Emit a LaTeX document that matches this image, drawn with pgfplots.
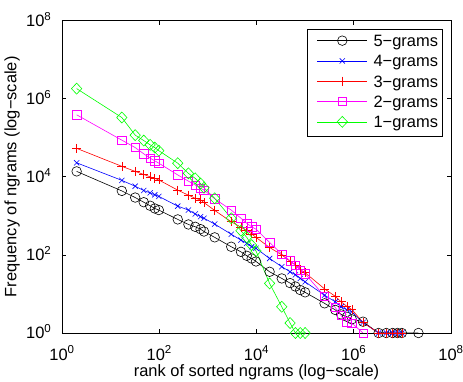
\documentclass[border=0pt]{standalone}
\usepackage{fontspec}
\setmainfont{Liberation Sans}
\usepackage{pgfplots}
\pgfplotsset{compat=1.18}
\definecolor{mgreen}{rgb}{0,1,0}
\definecolor{mmag}{rgb}{1,0,1}
\definecolor{mblue}{rgb}{0,0,1}
\definecolor{mred}{rgb}{1,0,0}
\newcommand{\lf}{\fontsize{16.5}{19}\selectfont}
\begin{document}
\lf
\begin{tikzpicture}
\begin{axis}[
  scale only axis, width=389bp, height=312.3bp,
  xmode=log, ymode=log,
  xmin=1, xmax=1e8, ymin=1, ymax=1e8,
  xtick={1,1e2,1e4,1e6,1e8},
  ytick={1,1e2,1e4,1e6,1e8},
  xticklabels={10\textsuperscript{0},10\textsuperscript{2},10\textsuperscript{4},10\textsuperscript{6},10\textsuperscript{8}},
  yticklabels={10\textsuperscript{0},10\textsuperscript{2},10\textsuperscript{4},10\textsuperscript{6},10\textsuperscript{8}},
  minor xtick={}, minor ytick={},
  tick align=inside, major tick length=4bp,
  tick style={black, line width=0.7bp},
  axis line style={line width=0.8bp},
  tick label style={font=\lf},
  xticklabel style={anchor=base, yshift=-27bp},
  yticklabel style={anchor=base east, xshift=-5bp, yshift=-5.9bp},
  xlabel={rank of sorted ngrams (log−scale)},
  ylabel={Frequency of ngrams (log−scale)},
  label style={font=\lf},
  xlabel style={at={(axis description cs:0.5,0)}, anchor=base, yshift=-43bp},
  ylabel style={at={(axis description cs:-0.1285,0.5)}, anchor=center},
  clip=false,
  legend style={at={(1,1)}, anchor=north east, xshift=-8.3bp, yshift=-8.6bp,
    draw=black, line width=0.8bp, fill=white,
    inner xsep=4.3bp, inner ysep=4.75bp, row sep=4bp,
    font=\lf,
    nodes={inner sep=0pt, text height=12bp, text depth=4.3bp},
    cells={anchor=base west},
    /tikz/every odd column/.append style={column sep=6bp}},
  legend image code/.code={
    \path (-5.7bp,0bp) (50bp,0bp);
    \draw[mark repeat=2,mark phase=2,#1] plot coordinates {(0bp,5.8bp) (25bp,5.8bp) (50bp,5.8bp)};
  },
]
\addplot[black, line width=0.6bp, mark=o, mark size=4.8bp, mark options={solid}] coordinates {
(2,13800)(17,4365)(32,2950)(48,2240)(65,1820)(81,1550)(98,1410)(240,813)(398,603)(550,525)(708,457)(832,398)(1380,282)(3020,162)(4790,120)(6310,95)(7940,81)(9770,68)(18600,37)(33100,25)(49000,19)(63100,15.5)(79400,12.6)(100000,11)(251000,5.75)(417000,3.9)(550000,3.0)(724000,2.6)(912000,2.24)(1550000,1.95)(3240000,1)(4680000,1)(6310000,1)(7940000,1)(9770000,1)(21400000,1)
};
\addlegendentry{5−grams}
\addplot[mblue, line width=0.6bp, mark=x, mark size=3.7bp, mark options={solid}] coordinates {
(2,22900)(17,8130)(32,5750)(48,4470)(65,3890)(81,3470)(98,3160)(240,1780)(398,1410)(550,1120)(708,955)(832,871)(1380,617)(3020,339)(4790,240)(6310,200)(7940,162)(9770,148)(18600,81)(33100,50)(49000,37)(63100,31)(79400,25)(100000,20.4)(251000,9.3)(417000,6.3)(550000,4.7)(724000,3.9)(912000,3.5)(1550000,1.86)(3240000,1)(4680000,1)(6310000,1)(7940000,1)(9770000,1)
};
\addlegendentry{4−grams}
\addplot[mred, line width=0.6bp, mark=+, mark size=4.5bp, mark options={solid}] coordinates {
(2,53700)(17,18600)(32,13800)(48,11500)(65,10000)(81,9120)(98,8320)(240,4570)(398,3390)(550,2820)(708,2570)(832,2190)(1380,1380)(3020,708)(4790,513)(6310,417)(7940,347)(9770,282)(18600,155)(33100,100)(49000,69)(63100,55)(79400,42)(100000,35)(251000,13.5)(417000,8.7)(550000,6.3)(724000,4.8)(912000,4.0)(1550000,1.86)(3240000,1)(4680000,1)(6310000,1)(7940000,1)(9770000,1)
};
\addlegendentry{3−grams}
\addplot[mmag, line width=0.6bp, mark=square, mark size=4.2bp, mark options={solid}] coordinates {
(2,389000)(17,87100)(32,56200)(48,38900)(65,30200)(81,25700)(98,22400)(240,11200)(398,7760)(550,6170)(708,5130)(832,4570)(1380,2750)(3020,1410)(4790,871)(6310,646)(7940,525)(9770,457)(18600,209)(33100,105)(49000,71)(63100,55)(79400,41)(100000,33)(251000,8.7)(417000,4.5)(550000,2.8)(724000,1.95)(912000,1.8)(1550000,1)
};
\addlegendentry{2−grams}
\addplot[mgreen, line width=0.6bp, mark=diamond, mark size=5.5bp, mark options={solid, xscale=1.25}] coordinates {
(2,1820000)(17,331000)(32,117000)(48,85100)(65,66100)(81,56200)(98,46800)(240,22400)(398,12300)(550,9120)(708,6760)(832,5250)(1380,2820)(3020,871)(4790,417)(6310,282)(7940,178)(9770,126)(18600,18.6)(33100,4.7)(49000,1.8)(63100,1)(79400,1)(100000,1)
};
\addlegendentry{1−grams}
\end{axis}
\pgfresetboundingbox
\path ([shift={(-62bp,-49bp)}]current axis.south west) rectangle ([shift={(12bp,20.7bp)}]current axis.north east);
\end{tikzpicture}
\end{document}
